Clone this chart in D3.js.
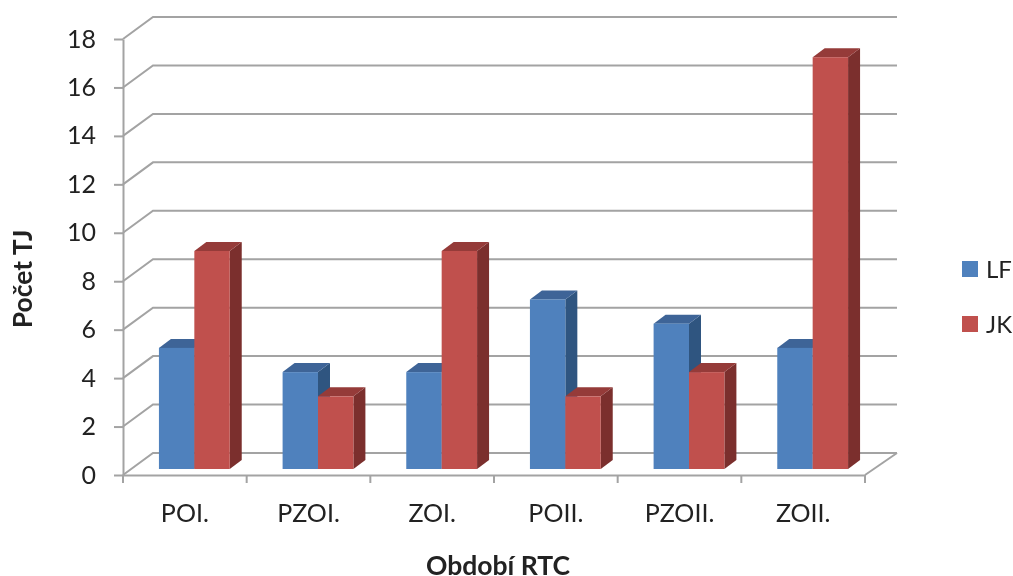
<!DOCTYPE html>
<html>
<head>
<meta charset="utf-8">
<script src="https://cdn.jsdelivr.net/npm/d3@7"></script>
<style>
  body { margin: 0; background: #fff; }
  svg { filter: blur(0.5px); }
  text { font-family: Lato, "Open Sans", sans-serif; fill: #222; }
</style>
</head>
<body>
<div id="chart"></div>
<script>
// data
const categories = ["POI.", "PZOI.", "ZOI.", "POII.", "PZOII.", "ZOII."];
const lf = [5, 4, 4, 7, 6, 5];
const jk = [9, 3, 9, 3, 4, 17];
const yTicks = [0, 2, 4, 6, 8, 10, 12, 14, 16, 18];
const seriesNames = ["LF", "JK"];

const svg = d3.select("#chart").append("svg")
    .attr("width", 1013)
    .attr("height", 576);

// front plane of the 3D box
const x = d3.scaleBand().domain(categories).range([123, 865]);
const y = d3.scaleLinear().domain([0, 18]).range([475, 39]);

// oblique depth offsets
const wall = { dx: 30, dy: -22 };      // back wall
const barFront = { dx: 9.5, dy: -6 };  // front face of bars
const barDepth = { dx: 12, dy: -9 };   // depth of bars
const barW = 35.4;
const gridRight = 897;

const colors = {
    LF: { front: "#4f81bd", top: "#3e6497", side: "#2f5580" },
    JK: { front: "#c0504d", top: "#953b39", side: "#7b2f2d" }
};
const grey = "#a3a3a3";

// gridlines
svg.append("g")
    .selectAll("polyline")
    .data(yTicks)
    .enter()
    .append("polyline")
    .attr("fill", "none")
    .attr("stroke", grey)
    .attr("stroke-width", 2)
    .attr("points", d => [
        [x.range()[0], y(d)],
        [x.range()[0] + wall.dx, y(d) + wall.dy],
        [gridRight, y(d) + wall.dy]
    ].join(" "));

// right edge of the floor
svg.append("line")
    .attr("x1", x.range()[1]).attr("y1", y(0))
    .attr("x2", gridRight).attr("y2", y(0) + wall.dy)
    .attr("stroke", grey)
    .attr("stroke-width", 2);

// axes
const yAxis = svg.append("g")
    .attr("transform", `translate(${x.range()[0]},0)`)
    .call(d3.axisLeft(y).tickValues(yTicks).tickSize(9).tickPadding(18).tickSizeOuter(0));

const xAxis = svg.append("g")
    .attr("transform", `translate(0,${y(0)})`)
    .call(d3.axisBottom(x).tickSize(0).tickPadding(29));

// category boundary ticks
xAxis.selectAll("line.sep")
    .data(d3.range(categories.length + 1))
    .enter()
    .append("line")
    .attr("class", "sep")
    .attr("x1", i => x.range()[0] + i * x.step())
    .attr("x2", i => x.range()[0] + i * x.step())
    .attr("y1", 0)
    .attr("y2", 8);

[yAxis, xAxis].forEach(a => {
    a.selectAll("path, line").attr("stroke", grey).attr("stroke-width", 2);
    a.selectAll("text").style("font-size", "25px").style("fill", "#222");
});

// bars
const bars = [];
categories.forEach((c, i) => {
    bars.push({ s: "LF", c, v: lf[i], off: -barW });
    bars.push({ s: "JK", c, v: jk[i], off: 0 });
});

const barG = svg.selectAll("g.bar")
    .data(bars)
    .enter()
    .append("g")
    .attr("class", "bar");

const bx0 = d => x(d.c) + x.bandwidth() / 2 + barFront.dx + d.off;
const by0 = () => y(0) + barFront.dy;
const byT = d => y(d.v) + barFront.dy;

barG.append("polygon")   // side
    .attr("fill", d => colors[d.s].side)
    .attr("points", d => {
        const r = bx0(d) + barW;
        return [[r, byT(d)], [r + barDepth.dx, byT(d) + barDepth.dy],
            [r + barDepth.dx, by0() + barDepth.dy], [r, by0()]].join(" ");
    });

barG.append("polygon")   // top
    .attr("fill", d => colors[d.s].top)
    .attr("points", d => {
        const l = bx0(d);
        return [[l, byT(d)], [l + barDepth.dx, byT(d) + barDepth.dy],
            [l + barW + barDepth.dx, byT(d) + barDepth.dy], [l + barW, byT(d)]].join(" ");
    });

barG.append("rect")      // front
    .attr("x", bx0)
    .attr("y", byT)
    .attr("width", barW)
    .attr("height", d => by0() - byT(d))
    .attr("fill", d => colors[d.s].front);

// axis titles
svg.append("text")
    .attr("x", 498)
    .attr("y", 575)
    .attr("text-anchor", "middle")
    .style("font-size", "26.5px")
    .style("font-weight", "bold")
    .text("Období RTC");

svg.append("text")
    .attr("transform", "translate(32,279) rotate(-90)")
    .attr("text-anchor", "middle")
    .style("font-size", "26.5px")
    .style("font-weight", "bold")
    .text("Počet TJ");

// legend
const legend = svg.selectAll("g.legend")
    .data(seriesNames)
    .enter()
    .append("g")
    .attr("class", "legend")
    .attr("transform", (d, i) => `translate(962,${261 + i * 55})`);

legend.append("rect")
    .attr("width", 16)
    .attr("height", 16)
    .attr("fill", d => colors[d].front);

legend.append("text")
    .attr("x", 24)
    .attr("y", 17)
    .style("font-size", "24px")
    .text(d => d);
</script>
</body>
</html>
